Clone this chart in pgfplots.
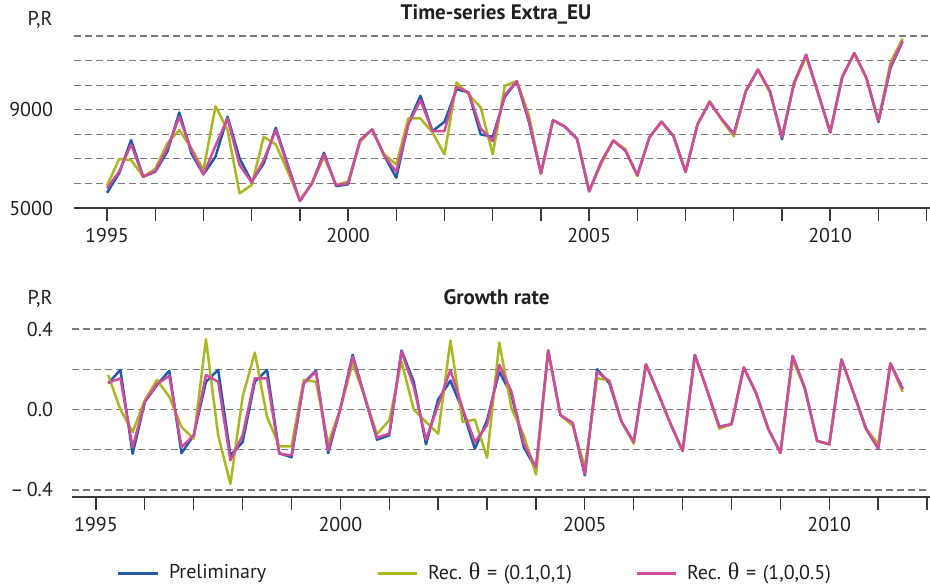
\documentclass[border=0pt]{standalone}
\usepackage{fontspec}
\setmainfont{PT Sans}
\newfontfamily\symfont[Scale=1.2]{Liberation Serif}
\usepackage{pgfplots}
\usepackage{pgfplotstable}
\pgfplotsset{compat=1.18}

\definecolor{prelim}{HTML}{1F5AA6}
\definecolor{recA}{HTML}{A9B723}
\definecolor{recB}{HTML}{CF4C9C}
\definecolor{gridgray}{HTML}{7A7A7A}
\definecolor{axisgray}{HTML}{3A3A3A}
\definecolor{labelcol}{HTML}{231F20}

% Quarterly levels: preliminary and two reconciled estimates
\pgfplotstableread{
t        P      RA     RB
1995.00  5620   5908   5800
1995.25  6409   6992   6477
1995.50  7764   6951   7588
1995.75  6274   6274   6274
1996.00  6477   6585   6504
1996.25  7290   7629   7425
1996.50  8889   8171   8713
1996.75  7222   7425   7358
1997.00  6369   6545   6369
1997.25  7087   9146   7534
1997.50  8713   8171   8645
1997.75  7019   5596   6748
1998.00  6070   5935   6043
1998.25  6816   7900   6951
1998.50  8266   7588   8171
1998.75  6748   6477   6680
1999.00  5285   5325   5285
1999.25  6003   6003   6003
1999.50  7249   7087   7181
1999.75  5894   5935   5935
2000.00  5962   6070   6003
2000.25  7764   7700   7764
2000.50  8198   8198   8198
2000.75  7127   7182   7127
2001.00  6233   6775   6477
2001.25  8442   8645   8401
2001.50  9566   8645   9390
2001.75  8130   8076   8130
2002.00  8509   7182   8130
2002.25  9837  10108   9932
2002.50  9702   9620   9702
2002.75  7995   9095   8238
2003.00  7900   7182   7724
2003.25  9526   9973   9593
2003.50 10163  10163  10163
2003.75  8509   8780   8577
2004.00  6409   6409   6409
2004.25  8577   8577   8577
2004.50  8306   8306   8306
2004.75  7805   7805   7805
2005.00  5680   5680   5680
2005.25  6872   6800   6872
2005.50  7745   7745   7745
2005.75  7342   7400   7342
2006.00  6336   6300   6336
2006.25  7879   7879   7879
2006.50  8510   8510   8510
2006.75  7919   7950   7919
2007.00  6470   6470   6470
2007.25  8416   8416   8416
2007.50  9315   9350   9315
2007.75  8617   8580   8617
2008.00  8013   7919   8013
2008.25  9758   9758   9758
2008.50 10631  10631  10631
2008.75  9758   9700   9758
2009.00  7800   7900   7879
2009.25 10094  10050  10094
2009.50 11235  11150  11235
2009.75  9664   9664   9664
2010.00  8081   8081   8081
2010.25 10336  10336  10336
2010.50 11302  11302  11302
2010.75 10295  10295  10295
2011.00  8500   8550   8550
2011.25 10700  10926  10765
2011.50 11772  11893  11800
}\levels

% Quarter-on-quarter growth rates
\pgfplotstableread{
t        P       RA      RB
1995.25  0.130   0.172   0.133
1995.50  0.197   0.000   0.155
1995.75 -0.220  -0.112  -0.187
1996.00  0.038   0.047   0.038
1996.25  0.122   0.147   0.127
1996.50  0.193   0.063   0.167
1996.75 -0.217  -0.087  -0.187
1997.00 -0.128  -0.145  -0.128
1997.25  0.138   0.350   0.172
1997.50  0.197  -0.128   0.138
1997.75 -0.228  -0.370  -0.253
1998.00 -0.162   0.063  -0.128
1998.25  0.138   0.283   0.155
1998.50  0.197  -0.037   0.155
1998.75 -0.217  -0.183  -0.220
1999.00 -0.237  -0.183  -0.228
1999.25  0.133   0.147   0.130
1999.50  0.193   0.138   0.188
1999.75 -0.217  -0.170  -0.203
2000.00  0.005   0.005   0.005
2000.25  0.272   0.230   0.263
2000.50  0.060   0.060   0.060
2000.75 -0.150  -0.123  -0.140
2001.00 -0.128  -0.053  -0.120
2001.25  0.293   0.238   0.288
2001.50  0.138   0.000   0.113
2001.75 -0.173  -0.062  -0.150
2002.00  0.050  -0.120   0.022
2002.25  0.143   0.343   0.197
2002.50 -0.003  -0.062   0.005
2002.75 -0.195  -0.050  -0.162
2003.00 -0.053  -0.240  -0.078
2003.25  0.188   0.333   0.222
2003.50  0.072   0.005   0.088
2003.75 -0.187  -0.128  -0.170
2004.00 -0.295  -0.323  -0.287
2004.25  0.293   0.293   0.293
2004.50 -0.028  -0.028  -0.028
2004.75 -0.067  -0.080  -0.067
2005.00 -0.328  -0.287  -0.320
2005.25  0.200   0.155   0.188
2005.50  0.130   0.146   0.140
2005.75 -0.061  -0.061  -0.061
2006.00 -0.161  -0.170  -0.161
2006.25  0.224   0.224   0.224
2006.50  0.080   0.080   0.080
2006.75 -0.070  -0.070  -0.070
2007.00 -0.206  -0.206  -0.206
2007.25  0.271   0.271   0.271
2007.50  0.096   0.096   0.096
2007.75 -0.086  -0.095  -0.086
2008.00 -0.073  -0.073  -0.073
2008.25  0.209   0.209   0.209
2008.50  0.083   0.083   0.083
2008.75 -0.095  -0.095  -0.095
2009.00 -0.216  -0.216  -0.216
2009.25  0.266   0.246   0.266
2009.50  0.105   0.105   0.105
2009.75 -0.156  -0.156  -0.156
2010.00 -0.173  -0.173  -0.173
2010.25  0.249   0.249   0.249
2010.50  0.080   0.080   0.080
2010.75 -0.095  -0.095  -0.095
2011.00 -0.194  -0.170  -0.194
2011.25  0.229   0.229   0.229
2011.50  0.105   0.088   0.100
}\growth

\pgfplotsset{
  panel/.style={
    scale only axis,
    height=86pt,
    axis x line*=bottom,
    axis y line*=left,
    x axis line style={-, axisgray, line width=0.8pt},
    y axis line style={draw=none},
    xtick={1995,...,2012},
    xticklabels={1995,,,,,2000,,,,,2005,,,,,2010,,},
    xtick align=outside,
    major tick length=6.5pt,
    xtick style={axisgray, line width=0.65pt},
    ytick style={draw=none},
    scaled ticks=false,
    ymajorgrids,
    major grid style={gridgray, line width=0.6pt, dash pattern=on 3.5pt off 2pt},
    tick label style={font=\fontsize{10}{12}\selectfont, text=labelcol},
    /pgf/number format/assume math mode=true,
    /pgf/number format/1000 sep={},
    every axis plot/.append style={line width=1.25pt, mark=none, line join=round},
  },
}

\begin{document}
\begin{tikzpicture}
\path[use as bounding box] (0pt,0pt) rectangle (465pt,-293pt);

% Levels
\begin{axis}[panel,
  at={(37pt,-104pt)}, anchor=south west,
  width=428pt,
  xmin=1994.315, xmax=2012.07,
  ymin=5000, ymax=12000,
  ytick={5000,6000,...,12000},
  yticklabels={5000,,,,9000,,,},
  yticklabel style={xshift=-7pt},
]
\addplot[prelim] table[x=t, y=P] {\levels};
\addplot[recA] table[x=t, y=RA] {\levels};
\addplot[recB] table[x=t, y=RB] {\levels};
\end{axis}

% Growth rates
\begin{axis}[panel,
  at={(36pt,-248.5pt)}, anchor=south west,
  width=429pt,
  xmin=1994.51, xmax=2012.06,
  ymin=-0.435, ymax=0.42,
  ytick={-0.4,-0.2,0,0.2,0.4},
  yticklabels={\textendash\,0.4,,0.0,,0.4},
  yticklabel style={xshift=-6pt},
  legend columns=3,
  legend cell align=left,
  legend image code/.code={\draw[#1, line width=1.5pt] (0pt,0pt) -- (19.5pt,0pt);},
  legend style={
    at={(0.05245,-0.4419)}, anchor=west,
    draw=none, fill=none, inner sep=0pt, outer sep=0pt,
    font=\fontsize{10}{12}\selectfont,
    text=labelcol,
    nodes={inner sep=0pt, text width=103.5pt, align=left},
    /tikz/every odd column/.append style={column sep=5pt},
    /tikz/every even column/.append style={column sep=0pt},
  },
]
\addplot[prelim] table[x=t, y=P] {\growth};
\addlegendentry{Preliminary}
\addplot[recA] table[x=t, y=RA] {\growth};
\addlegendentry{Rec.\ {\symfont θ} = (0.1,0,1)}
\addplot[recB] table[x=t, y=RB] {\growth};
\addlegendentry{Rec.\ {\symfont θ} = (1,0,0.5)}
\end{axis}

% Panel titles and axis captions
\node[font=\bfseries\fontsize{10.5}{12}\selectfont, text=labelcol] at (248pt,-7pt) {Time-series Extra\_EU};
\node[font=\bfseries\fontsize{10.5}{12}\selectfont, text=labelcol] at (248.25pt,-148.5pt) {Growth rate};
\node[font=\fontsize{10}{12}\selectfont, text=labelcol] at (20pt,-10pt) {P,R};
\node[font=\fontsize{10}{12}\selectfont, text=labelcol] at (20pt,-149.5pt) {P,R};
\end{tikzpicture}
\end{document}
